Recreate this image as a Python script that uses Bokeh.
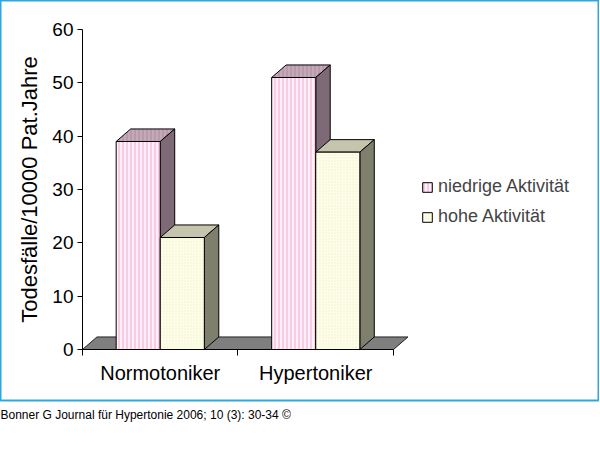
from bokeh.plotting import figure
from bokeh.models import LinearAxis, FixedTicker, Legend, LegendItem, Title, Range1d
from bokeh.embed import file_html
from bokeh.resources import INLINE

# Daten aus der Abbildung
kategorien = ["Normotoniker", "Hypertoniker"]
niedrige = [39, 51]
hohe = [21, 37]
serien = ["niedrige Aktivität", "hohe Aktivität"]
y_ticks = [0, 10, 20, 30, 40, 50, 60]
y_titel = "Todesfälle/10000 Pat.Jahre"
quelle = "Bonner G Journal für Hypertonie 2006; 10 (3): 30-34 ©"

FONT = "Liberation Sans"
BAR_W = 0.2835   # Balkenbreite in Kategorie-Einheiten
DX = 0.093       # Tiefe (x) fuer den 3D-Effekt
DY = 2.35        # Tiefe (y) fuer den 3D-Effekt

p = figure(width=599, height=463, output_backend="svg", toolbar_location=None,
           x_range=Range1d(-0.5273, 3.3248), y_range=Range1d(-9.5625, 65.4375),
           x_axis_location=None, y_axis_location=None,
           min_border=0, min_border_bottom=63,
           background_fill_color="white", border_fill_color="white")
p.outline_line_color = "#2ea7e0"
p.outline_line_width = 2
p.grid.visible = False

# Boden
n = len(kategorien)
p.patch([0, n, n + DX, DX], [0, 0, DY, DY], fill_color="#7f7f7f", line_color="#222222", line_width=1)

stile = [
    dict(front="#fdeef7", front_hatch="#f0aad2", top="#c5a9b9", top_hatch="#a98c9c", side="#7e6a76"),
    dict(front="#fefee8", front_hatch="#efefcf", top="#c5c5ad", top_hatch="#c5c5ad", side="#7f7f6d"),
]

fronts = []
for j, werte in enumerate([niedrige, hohe]):
    st = stile[j]
    left = [i + 0.5 - BAR_W + j * BAR_W for i in range(n)]
    right = [l + BAR_W for l in left]
    top_xs = [[l, r, r + DX, l + DX] for l, r in zip(left, right)]
    top_ys = [[v, v, v + DY, v + DY] for v in werte]
    side_xs = [[r, r + DX, r + DX, r] for r in right]
    side_ys = [[0, DY, v + DY, v] for v in werte]
    p.patches(top_xs, top_ys, fill_color=st["top"], line_color="black", line_width=1,
              hatch_pattern="vertical_line", hatch_color=st["top_hatch"], hatch_scale=4, hatch_weight=1)
    p.patches(side_xs, side_ys, fill_color=st["side"], line_color="black", line_width=1)
    r = p.quad(left=left, right=right, bottom=0, top=werte, fill_color=st["front"],
               line_color="black", line_width=1,
               hatch_pattern="vertical_line" if j == 0 else "dot",
               hatch_color=st["front_hatch"], hatch_scale=4 if j == 0 else 3, hatch_weight=1)
    fronts.append(r)

# Achsen
yaxis = LinearAxis(fixed_location=0, ticker=FixedTicker(ticks=y_ticks, minor_ticks=[]),
                   bounds=(0, 60), axis_label=y_titel)
yaxis.major_tick_out = 5
yaxis.major_tick_in = 0
yaxis.major_label_standoff = 4
yaxis.major_label_text_font = FONT
yaxis.major_label_text_font_size = "19px"
yaxis.major_label_text_color = "black"
yaxis.axis_label_text_font = FONT
yaxis.axis_label_text_font_size = "22px"
yaxis.axis_label_text_font_style = "normal"
yaxis.axis_label_text_color = "black"
yaxis.axis_label_standoff = 7
p.add_layout(yaxis, "left")

mitten = [i + 0.5 for i in range(n)]
xaxis = LinearAxis(fixed_location=0,
                   ticker=FixedTicker(ticks=mitten, minor_ticks=list(range(n + 1))),
                   bounds=(0, n), major_label_overrides=dict(zip(mitten, kategorien)))
xaxis.major_tick_line_color = None
xaxis.major_tick_out = 0
xaxis.major_tick_in = 0
xaxis.minor_tick_out = 6
xaxis.minor_tick_in = 0
xaxis.major_label_standoff = 6
xaxis.major_label_text_font = FONT
xaxis.major_label_text_font_size = "20px"
xaxis.major_label_text_color = "black"
p.add_layout(xaxis, "below")

legend = Legend(items=[LegendItem(label=s, renderers=[r]) for s, r in zip(serien, fronts)],
                location=(421, 173), border_line_color=None, background_fill_alpha=0,
                label_text_font=FONT, label_text_font_size="18px", label_height=20,
                glyph_width=12, glyph_height=12, spacing=9, padding=0, margin=0,
                label_standoff=5)
p.add_layout(legend)

p.add_layout(Title(text=quelle, align="left", text_font=FONT, text_font_size="12px",
                   text_font_style="normal", text_color="black"), "below")

open("out.html", "w").write(file_html(p, INLINE))
